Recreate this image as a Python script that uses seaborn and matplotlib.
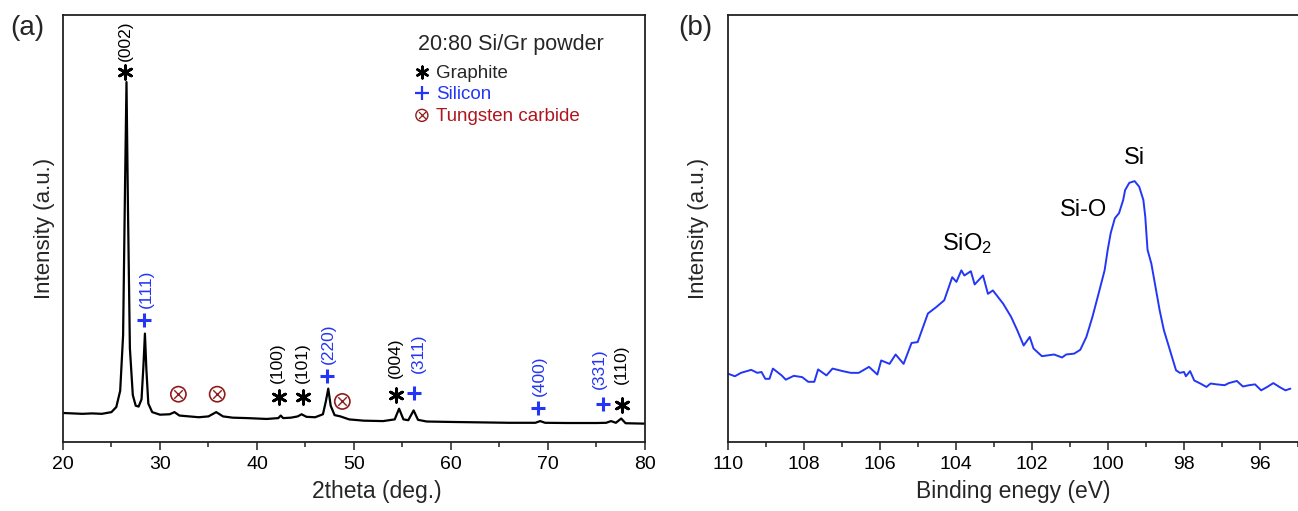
import matplotlib
matplotlib.use("Agg")
import matplotlib.pyplot as plt
import seaborn as sns
import pandas as pd

# ---------------- data: (a) XRD ----------------
two_theta = [20, 21, 22, 23, 24, 25, 25.5, 25.9, 26.2, 26.4, 26.55, 26.7, 26.9, 27.2, 27.5,
             27.8, 28.1, 28.3, 28.45, 28.6, 28.8, 29.2, 30, 31, 31.5, 32, 33, 34, 35, 35.8,
             36.5, 37.5, 39, 41, 42.2, 42.45, 42.7, 43.5, 44.2, 44.6, 45.1, 46, 46.8, 47.1,
             47.35, 47.6, 48, 48.6, 49.5, 51, 53, 54.2, 54.65, 55.1, 55.6, 56.15, 56.6, 57.5,
             60, 63, 66, 68.7, 69.2, 69.7, 72, 75, 76, 76.5, 77, 77.55, 78, 79, 80]
xrd_intensity = [6.8, 6.7, 6.6, 6.7, 6.6, 7.0, 8.2, 12, 25, 60, 84.3, 55, 22, 11, 8.5,
                 8.3, 10, 18, 25.4, 17, 9, 7, 6.4, 6.5, 7.0, 6.2, 6.0, 5.8, 6.0, 7.0,
                 6.0, 5.7, 5.6, 5.4, 5.6, 6.2, 5.6, 5.7, 6.0, 6.5, 5.9, 5.8, 6.5, 9.5,
                 12.5, 8.5, 6.3, 6.0, 5.3, 5.0, 4.9, 5.3, 7.8, 5.3, 5.1, 7.4, 5.2, 4.8,
                 4.7, 4.6, 4.5, 4.5, 4.9, 4.5, 4.45, 4.45, 4.5, 4.9, 4.5, 5.5, 4.4, 4.35, 4.3]

# peak annotations
graphite_x = [26.4, 42.3, 44.7, 54.3, 77.6]
graphite_y = [86.7, 10.5, 10.5, 10.9, 8.7]
graphite_lbl = ["(002)", "(100)", "(101)", "(004)", "(110)"]
graphite_lbl_x = [26.4, 42.1, 44.7, 54.3, 77.6]
graphite_lbl_y = [94.0, 18.6, 18.6, 19.7, 18.3]

silicon_x = [28.4, 47.2, 56.2, 69.0, 75.7]
silicon_y = [28.5, 15.4, 11.5, 8.0, 9.0]
silicon_lbl = ["(111)", "(220)", "(311)", "(400)", "(331)"]
silicon_lbl_x = [28.6, 47.4, 56.6, 69.1, 75.3]
silicon_lbl_y = [35.9, 23.0, 20.7, 15.6, 17.2]

wc_x = [31.9, 35.9, 48.8]
wc_y = [11.2, 11.2, 9.5]

# ---------------- data: (b) XPS ----------------
binding_energy = [110.00, 109.82, 109.66, 109.39, 109.23, 109.12, 109.02, 108.91, 108.82, 108.59,
                  108.48, 108.27, 108.05, 107.89, 107.73, 107.63, 107.41, 107.25, 106.98, 106.77,
                  106.56, 106.29, 106.07, 105.97, 105.75, 105.59, 105.38, 105.17, 105.01, 104.74,
                  104.52, 104.31, 104.10, 103.99, 103.86, 103.78, 103.61, 103.51, 103.29, 103.16,
                  103.03, 102.76, 102.55, 102.39, 102.22, 102.06, 101.96, 101.74, 101.42, 101.21,
                  101.10, 100.89, 100.73, 100.57, 100.41, 100.25, 100.09, 100.01, 99.93, 99.82,
                  99.71, 99.60, 99.55, 99.44, 99.30, 99.18, 99.07, 99.02, 98.96, 98.86,
                  98.75, 98.64, 98.53, 98.37, 98.21, 98.11, 98.00, 97.95, 97.84, 97.73,
                  97.57, 97.41, 97.30, 97.14, 96.93, 96.82, 96.61, 96.45, 96.29, 96.13,
                  95.97, 95.81, 95.65, 95.49, 95.33, 95.2]
xps_intensity = [16.0, 15.4, 16.2, 16.9, 16.2, 16.4, 14.8, 14.8, 17.2, 15.6,
                 14.6, 15.5, 15.2, 14.1, 14.1, 17.0, 15.6, 17.2, 16.6, 16.2,
                 16.2, 17.6, 15.8, 19.1, 18.3, 20.5, 18.3, 23.2, 23.4, 30.1,
                 31.6, 33.2, 38.6, 37.5, 40.2, 39.0, 40.0, 36.9, 39.0, 34.7,
                 35.5, 32.4, 29.3, 26.2, 22.6, 24.6, 21.9, 20.1, 20.5, 19.8,
                 20.5, 20.7, 21.6, 24.6, 29.3, 34.7, 40.2, 44.9, 48.9, 52.4,
                 53.6, 56.7, 59.0, 60.7, 61.1, 59.8, 56.7, 52.8, 45.0, 41.8,
                 36.3, 30.8, 26.2, 21.5, 16.8, 16.2, 16.4, 15.4, 16.6, 14.4,
                 13.7, 12.9, 13.7, 13.5, 13.3, 13.8, 14.3, 13.0, 13.3, 13.5,
                 12.1, 12.9, 13.8, 12.9, 12.1, 12.5]

xps_lbl = ["Si", "Si-O", r"SiO$_\mathregular{2}$"]
xps_lbl_x = [99.3, 100.65, 103.7]
xps_lbl_y = [66.5, 54.3, 46.4]

# ---------------- style ----------------
sns.set_theme(style="ticks")
plt.rcParams["font.family"] = ["Liberation Sans", "DejaVu Sans"]
plt.rcParams["mathtext.fontset"] = "custom"
plt.rcParams["mathtext.rm"] = "Liberation Sans"
plt.rcParams["mathtext.it"] = "Liberation Sans:italic"

BLUE = "#2336F5"
BLACK = "#000000"
RED = "#B0141E"
DRED = "#8E1C1C"

fig = plt.figure(figsize=(12.98, 5.11), dpi=100)
ax1 = fig.add_axes([0.0485, 0.135, 0.4484, 0.8356])
ax2 = fig.add_axes([0.5609, 0.135, 0.4391, 0.8356])

df_a = pd.DataFrame({"two_theta": two_theta, "intensity": xrd_intensity})
df_b = pd.DataFrame({"be": binding_energy, "intensity": xps_intensity})

sns.lineplot(data=df_a, x="two_theta", y="intensity", ax=ax1, color=BLACK,
             linewidth=1.6, sort=False, estimator=None)
sns.lineplot(data=df_b, x="be", y="intensity", ax=ax2, color=BLUE,
             linewidth=1.4, sort=False, estimator=None)

for ax in (ax1, ax2):
    ax.set_ylim(0, 100)
    ax.set_yticks([])
    for s in ax.spines.values():
        s.set_linewidth(1.3)
        s.set_color("#222222")
    ax.tick_params(axis="x", which="major", direction="out", length=6, width=1.1,
                   labelsize=14, pad=4, colors="#222222", labelcolor="black")
    ax.tick_params(axis="x", which="minor", direction="out", length=3.5, width=1.1,
                   colors="#222222")

ax1.set_ylabel("Intensity (a.u.)", fontsize=16, labelpad=6)
ax2.set_ylabel("Intensity (a.u.)", fontsize=16, labelpad=14)

ax1.set_xlim(20, 80)
ax1.set_xticks([20, 30, 40, 50, 60, 70, 80])
ax1.set_xticks([25, 35, 45, 55, 65, 75], minor=True)
ax1.set_xlabel("2theta (deg.)", fontsize=16.5, labelpad=5)
ax1.xaxis.label.set_x(0.54)

ax2.set_xlim(110, 95.2)
ax2.set_xticks([110, 108, 106, 104, 102, 100, 98, 96])
ax2.set_xticks([109, 107, 105, 103, 101, 99, 97, 95], minor=True)
ax2.set_xlabel("Binding enegy (eV)", fontsize=16.5, labelpad=5)
ax2.spines["right"].set_visible(False)

# ---- (a) markers ----
ax1.scatter(graphite_x, graphite_y, marker=(6, 2, 0), s=95, color=BLACK,
            linewidths=2.0, zorder=5)
ax1.scatter(silicon_x, silicon_y, marker="+", s=105, color=BLUE,
            linewidths=2.2, zorder=5)
ax1.scatter(wc_x, wc_y, marker="o", s=120, facecolors="none", edgecolors=DRED,
            linewidths=1.2, zorder=5)
ax1.scatter(wc_x, wc_y, marker="x", s=38, color=DRED, linewidths=1.0, zorder=5)

for lx, ly, t in zip(graphite_lbl_x, graphite_lbl_y, graphite_lbl):
    ax1.text(lx, ly, t, rotation=90, ha="center", va="center", fontsize=12.5, color=BLACK)
for lx, ly, t in zip(silicon_lbl_x, silicon_lbl_y, silicon_lbl):
    ax1.text(lx, ly, t, rotation=90, ha="center", va="center", fontsize=12.5, color=BLUE)

# legend block
ax1.text(56.6, 93.2, "20:80 Si/Gr powder", fontsize=15.5, ha="left", va="center")
ax1.scatter([57.0], [86.6], marker=(6, 2, 0), s=70, color=BLACK, linewidths=1.8)
ax1.text(58.45, 86.4, "Graphite", fontsize=13.5, ha="left", va="center")
ax1.scatter([57.0], [81.7], marker="+", s=100, color=BLUE, linewidths=1.6)
ax1.text(58.45, 81.5, "Silicon", fontsize=13.5, ha="left", va="center", color=BLUE)
ax1.scatter([57.0], [76.5], marker="o", s=75, facecolors="none", edgecolors=DRED, linewidths=1.0)
ax1.scatter([57.0], [76.5], marker="x", s=25, color=DRED, linewidths=0.9)
ax1.text(58.45, 76.3, "Tungsten carbide", fontsize=13.5, ha="left", va="center", color=RED)

# ---- (b) labels ----
for lx, ly, t in zip(xps_lbl_x, xps_lbl_y, xps_lbl):
    ax2.text(lx, ly, t, ha="center", va="center", fontsize=17, color=BLACK)

fig.text(0.021, 0.945, "(a)", fontsize=20, ha="center", va="center")
fig.text(0.5355, 0.945, "(b)", fontsize=20, ha="center", va="center")

fig.savefig("out.png", dpi=100)
